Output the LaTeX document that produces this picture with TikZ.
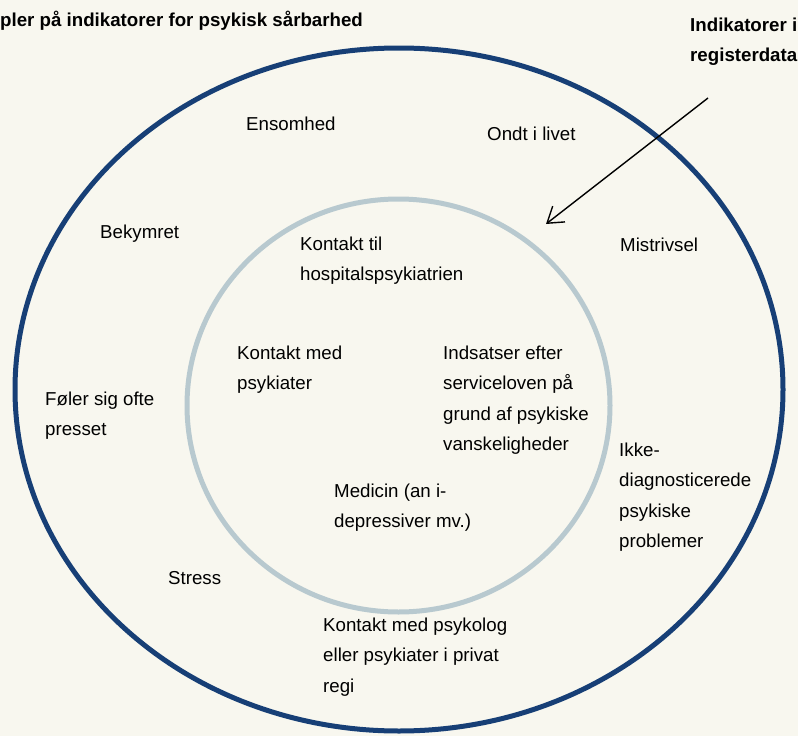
\documentclass[tikz,border=0pt]{standalone}
\usepackage{fontspec}
\setmainfont{Liberation Sans}
\usetikzlibrary{arrows.meta}
\definecolor{paper}{HTML}{F8F7EF}
\definecolor{navy}{HTML}{173F76}
\definecolor{mist}{HTML}{B8C9CF}
\tikzset{
  % anchor = baseline of the last line of each label
  lbl/.style={anchor=base west, inner sep=0pt, align=left,
    font=\fontsize{18.7}{30.6}\selectfont, text=black},
  head/.style={lbl, font=\fontsize{18.7}{30.6}\selectfont\bfseries},
  ring/.style={line width=5pt},
  pointer/.style={line width=1.4pt, -{Straight Barb[length=15pt,width=20pt,line width=1.4pt]}}
}
\begin{document}
\begin{tikzpicture}[x=1pt,y=-1pt]
  \useasboundingbox (0,0) rectangle (798,736);
  \fill[paper] (0,0) rectangle (798,736);
  \clip (0,0) rectangle (798,736);

  % rings: outer = all indicators, inner = indicators found in register data
  \draw[ring, navy] (399,389.5) ellipse [x radius=384, y radius=341.5];
  \draw[ring, mist] (398.5,405.5) ellipse [x radius=211.5, y radius=206.5];

  % headings
  \node[head] (title) at (0,27) {pler på indikatorer for psykisk sårbarhed};
  \node[head] (reg) at (690,61.6) {Indikatorer i\\registerdata};

  % outer ring labels
  \node[lbl] (ensom) at (246,130) {Ensomhed};
  \node[lbl] (ondt) at (487,140) {Ondt i livet};
  \node[lbl] (bekym) at (100,238) {Bekymret};
  \node[lbl] (mistr) at (620,251) {Mistrivsel};
  \node[lbl] (presset) at (45,435.6) {Føler sig ofte\\presset};
  \node[lbl] (ikke) at (619,547.8) {Ikke-\\diagnosticerede\\psykiske\\problemer};
  \node[lbl] (stress) at (168,584) {Stress};
  \node[lbl] (psykolog) at (323,692.2) {Kontakt med psykolog\\eller psykiater i privat\\regi};

  % inner ring labels
  \node[lbl] (hosp) at (300,280.6) {Kontakt til\\hospitalspsykiatrien};
  \node[lbl] (psykiater) at (237,389.6) {Kontakt med\\psykiater};
  \node[lbl] (indsats) at (443,450.8) {Indsatser efter\\serviceloven på\\grund af psykiske\\vanskeligheder};
  \node[lbl] (medicin) at (334,527.6) {Medicin (an i-\\depressiver mv.)};

  % pointer from the register-data heading to the inner ring
  \coordinate (from) at (708,98);
  \coordinate (to) at (546,224);
  \draw[pointer] (from) -- (to);
\end{tikzpicture}
\end{document}
